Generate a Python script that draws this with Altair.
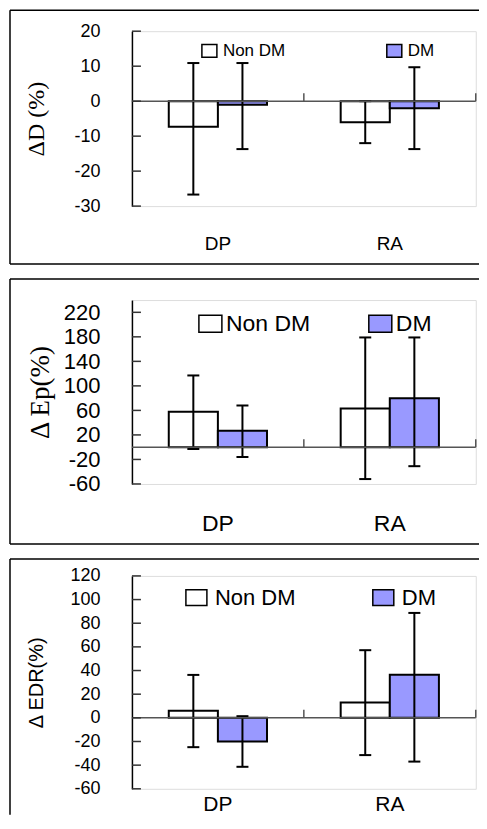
import altair as alt
import pandas as pd

categories = ["DP", "RA"]
groups = ["Non DM", "DM"]

# Panel 1: ΔD (%)
d_mean_non = [-7.3, -6.0]
d_mean_dm = [-1.0, -2.0]
d_low_non = [-26.7, -12.0]
d_low_dm = [-13.7, -13.7]
d_high_non = [10.9, 0.0]
d_high_dm = [10.9, 9.7]
d_ticks = [-30, -20, -10, 0, 10, 20]

# Panel 2: Δ Ep(%)
ep_mean_non = [58, 63]
ep_mean_dm = [27, 80]
ep_low_non = [-3, -52]
ep_low_dm = [-16, -31]
ep_high_non = [117, 179]
ep_high_dm = [68, 179]
ep_ticks = [-60, -20, 20, 60, 100, 140, 180, 220]

# Panel 3: Δ EDR(%)
edr_mean_non = [6, 13]
edr_mean_dm = [-20, 36.5]
edr_low_non = [-24.8, -31.5]
edr_low_dm = [-41.4, -37.0]
edr_high_non = [36.3, 57.2]
edr_high_dm = [1.4, 88.7]
edr_ticks = [-60, -40, -20, 0, 20, 40, 60, 80, 100, 120]

SANS = "Liberation Sans"
SERIF = "Liberation Serif"


def panel(mean_non, mean_dm, low_non, low_dm, high_non, high_dm, ticks, domain,
          title, st):
    rows = []
    for i, c in enumerate(categories):
        rows.append(dict(cat=c, grp=groups[0], mean=mean_non[i], lo=low_non[i], hi=high_non[i]))
        rows.append(dict(cat=c, grp=groups[1], mean=mean_dm[i], lo=low_dm[i], hi=high_dm[i]))
    df = pd.DataFrame(rows)
    w, h = st["w"], st["h"]
    zero_px = (domain[1] - 0) / (domain[1] - domain[0]) * h

    yscale = alt.Scale(domain=domain, nice=False, zero=False)
    xscale = alt.Scale(domain=categories, paddingInner=0, paddingOuter=0)
    oscale = alt.Scale(domain=groups, paddingInner=0, paddingOuter=0.75)
    yaxis = alt.Axis(
        values=ticks, title=title, titleFont=st["tfont"], titleFontSize=st["tfs"],
        titleFontWeight="normal", titleColor="black", titleX=st["tx"], titleY=h / 2,
        titleAngle=270, titleAlign="center", titleBaseline="middle",
        labelFont=SANS, labelFontSize=st["yfs"], labelColor="black",
        labelExpr="'' + datum.value",
        labelPadding=32, ticks=False, tickSize=0, domain=True, domainColor="black",
        domainWidth=1.5, grid=False, labelOverlap=False, orient="left")
    xaxis = alt.Axis(
        title=None, labelAngle=0, labelFont=SANS, labelFontSize=st["xfs"],
        labelColor="black", labelPadding=st["xpad"], labelBaseline="alphabetic",
        ticks=False, tickSize=0, domain=False, grid=False, orient="bottom")
    X = alt.X("cat:N", scale=xscale, sort=categories, axis=xaxis)
    XO = alt.XOffset("grp:N", scale=oscale)

    def Y(field):
        return alt.Y(field, scale=yscale, axis=yaxis)

    base = alt.Chart(df)
    bars = base.mark_bar(stroke="black", strokeWidth=2, opacity=1).encode(
        x=X, xOffset=XO, y=Y("mean:Q"),
        fill=alt.Fill("grp:N", scale=alt.Scale(domain=groups, range=["#FFFFFF", "#9999FF"]),
                      legend=alt.Legend(
                          orient="none", legendX=st["lx"], legendY=st["ly"],
                          direction="horizontal", title=None, labelFont=SANS,
                          labelFontSize=st["lfs"], labelColor="black",
                          labelBaseline="middle", labelOffset=st["loff"],
                          symbolType=st["sym"], symbolSize=st["ssize"],
                          symbolStrokeColor="black", symbolStrokeWidth=1.5,
                          symbolOpacity=1, columnPadding=st["cpad"], padding=0)),
    )
    err = base.mark_rule(color="black", strokeWidth=2).encode(
        x=X, xOffset=XO, y=Y("lo:Q"), y2="hi:Q")
    cap_lo = base.mark_tick(color="black", thickness=2, size=12, opacity=1).encode(
        x=X, xOffset=XO, y=Y("lo:Q"))
    cap_hi = base.mark_tick(color="black", thickness=2, size=12, opacity=1).encode(
        x=X, xOffset=XO, y=Y("hi:Q"))

    one = alt.Chart(pd.DataFrame({"k": [0]}))
    zero_line = one.mark_rule(color="#555555", strokeWidth=1.5).encode(
        y=alt.Y(datum=0, scale=yscale, axis=yaxis))
    mid_tick = one.mark_rule(color="#555555", strokeWidth=1.5).encode(
        x=alt.value(w / 2), y=alt.Y(datum=0, scale=yscale, axis=yaxis),
        y2=alt.value(zero_px - 8))
    end_tick = one.mark_rule(color="#555555", strokeWidth=1.5).encode(
        x=alt.value(w), y=alt.Y(datum=0, scale=yscale, axis=yaxis),
        y2=alt.value(zero_px - 8))
    inner_ticks = alt.Chart(pd.DataFrame({"t": ticks})).mark_rule(
        color="#333333", strokeWidth=1.5).encode(
        y=Y("t:Q"), x=alt.value(0), x2=alt.value(9))

    fx1, fx2 = -st["fl"], w + st["fr"]
    fy1, fy2 = -st["ft"], h + st["fb"]
    frame_style = dict(color="black", strokeWidth=1.5)
    f_left = one.mark_rule(**frame_style).encode(
        x=alt.value(fx1), y=alt.value(fy1), y2=alt.value(fy2))
    f_right = one.mark_rule(**frame_style).encode(
        x=alt.value(fx2), y=alt.value(fy1), y2=alt.value(fy2))
    f_top = one.mark_rule(**frame_style).encode(
        x=alt.value(fx1), x2=alt.value(fx2), y=alt.value(fy1))
    layers = [bars, err, cap_lo, cap_hi, zero_line, mid_tick, end_tick,
              inner_ticks, f_left, f_right, f_top]
    if st["bottom"]:
        layers.append(one.mark_rule(**frame_style).encode(
            x=alt.value(fx1), x2=alt.value(fx2), y=alt.value(fy2)))
    return alt.layer(*layers).properties(width=w, height=h)


p1 = panel(d_mean_non, d_mean_dm, d_low_non, d_low_dm, d_high_non, d_high_dm,
           d_ticks, [-30, 20], "ΔD (%)",
           dict(w=344, h=175, xfs=19, xpad=43, tfont=SERIF, tfs=24, tx=-95.25, yfs=18,
                lx=69, ly=11, lfs=17, loff=5, sym="M-1,-0.85H1V0.85H-1Z", ssize=225,
                cpad=98, fl=122, fr=12, ft=21, fb=58, bottom=True))
p2 = panel(ep_mean_non, ep_mean_dm, ep_low_non, ep_low_dm, ep_high_non, ep_high_dm,
           ep_ticks, [-60, 240], "Δ Ep(%)",
           dict(w=344, h=184, xfs=23, xpad=47, tfont=SERIF, tfs=27, tx=-91.75, yfs=22,
                lx=66, ly=11, lfs=23, loff=3, sym="M-1,-0.74H1V0.74H-1Z", ssize=529,
                cpad=55, fl=122, fr=12, ft=21, fb=60, bottom=True))
p3 = panel(edr_mean_non, edr_mean_dm, edr_low_non, edr_low_dm, edr_high_non, edr_high_dm,
           edr_ticks, [-60, 120], "Δ EDR(%)",
           dict(w=344, h=213, xfs=21, xpad=22, tfont=SANS, tfs=20, tx=-95.25, yfs=18,
                lx=53, ly=10, lfs=22, loff=7, sym="M-1,-0.75H1V0.75H-1Z", ssize=441,
                cpad=74, fl=122, fr=12, ft=17, fb=26, bottom=False))

chart = alt.vconcat(p1, p2, p3, spacing=11).resolve_scale(
    x="independent", y="independent", xOffset="independent", fill="independent"
).resolve_legend(fill="independent").properties(
    padding={"left": 0, "top": 0, "right": -10.75, "bottom": 0}, background="white"
).configure_view(stroke="#808080", strokeWidth=2).configure(font=SANS)

chart.save("out.html", embed_options={"renderer": "svg", "actions": False})
